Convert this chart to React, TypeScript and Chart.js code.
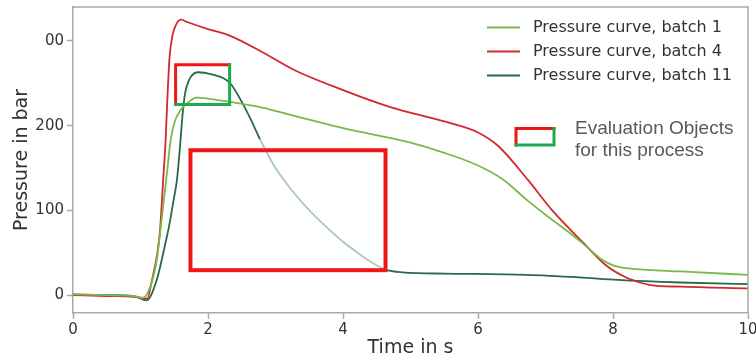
import React, { useEffect, useRef } from 'react';
import { Chart, registerables } from 'chart.js';

Chart.register(...registerables);

// ---- data ----
const seriesLabels = ['Pressure curve, batch 1', 'Pressure curve, batch 4', 'Pressure curve, batch 11'];

const batch1Time = [0, 0.5, 0.9, 1.04, 1.12, 1.2, 1.24, 1.3, 1.4, 1.44, 1.5, 1.59, 1.7, 1.83, 2.0, 2.33, 2.77, 3.5, 4.0, 5.0, 5.5, 6.0, 6.38, 6.7, 7.0, 7.3, 7.57, 7.8, 7.95, 8.1, 8.31, 9.0, 10];
const batch1Pressure = [1, 0, -1, -3, 5, 25, 41, 80, 150, 179, 203, 218, 227, 233, 232, 228, 222, 207, 197, 180, 168, 153, 136, 114, 95, 77, 60, 44, 37, 33, 31, 28, 24];

const batch4Time = [0, 0.5, 0.9, 1.1, 1.17, 1.25, 1.29, 1.335, 1.37, 1.4, 1.43, 1.47, 1.52, 1.6, 1.7, 2.0, 2.33, 2.8, 3.27, 4.0, 4.7, 5.5, 6.0, 6.3, 6.74, 7.1, 7.57, 7.9, 8.22, 8.56, 9.0, 10];
const batch4Pressure = [0, -1, -2, -4, 18, 50, 77, 135, 180, 235, 280, 305, 318, 325, 322, 314, 306, 287, 266, 242, 222, 205, 192, 176, 136, 100, 61, 35, 20, 12, 10, 8];

const batch11Time = [0, 0.5, 0.9, 1.09, 1.24, 1.39, 1.42, 1.49, 1.54, 1.58, 1.62, 1.66, 1.72, 1.8, 1.86, 2.08, 2.23, 2.33, 2.48, 2.63, 2.77, 2.9, 3.0, 3.2, 3.4, 3.6, 3.8, 4.0, 4.2, 4.4, 4.55, 4.65, 4.8, 5.1, 5.5, 6.73, 7.5, 8.07, 9.0, 10];
const batch11Pressure = [1, 0, -1, -6, 18, 69, 80, 112, 136, 170, 210, 238, 254, 262, 263, 260, 256, 250, 231, 208, 184, 164, 150, 128, 109, 92, 77, 63, 51, 40, 33, 29.5, 27.5, 26, 25.5, 24, 21, 18, 15, 13];

// segment of batch 11 drawn pale (inside the large evaluation box)
const paleRange = [2.77, 4.66];

const xTickValues = [0, 2, 4, 6, 8, 10];
const yTickValues = [0, 100, 200, 300];
const yTickLabels = ['0', '100', '200', '00'];

// evaluation boxes in data units
const bigBoxX = [1.74, 4.63];
const bigBoxY = [29.5, 171];
const smallBoxX = [1.52, 2.32];
const smallBoxY = [225, 272];

const noteLines = ['Evaluation Objects', 'for this process'];

// ---- styles ----
const colors = ['#79b84a', '#d2282e', '#276b45'];
const paleColor = '#a9c8c2';
const boxRed = '#f01616';
const boxGreen = '#1daa50';
const spineColor = '#a8a8a8';
const textColor = '#333333';
const FONT = '"DejaVu Sans", sans-serif';

function toPoints(t: number[], v: number[]) {
  return t.map((x, i) => ({ x, y: v[i] }));
}

function zeroPadding(s: any) {
  s.paddingTop = 0;
  s.paddingBottom = 0;
  s.paddingLeft = 0;
  s.paddingRight = 0;
}

const decorPlugin = {
  id: 'decor',
  afterDatasetsDraw(chart: any) {
    const { ctx, scales } = chart;
    const xs = scales.x;
    const ys = scales.y;
    ctx.save();
    // big red box
    ctx.strokeStyle = boxRed;
    ctx.lineWidth = 4;
    const bx0 = xs.getPixelForValue(bigBoxX[0]);
    const bx1 = xs.getPixelForValue(bigBoxX[1]);
    const by0 = ys.getPixelForValue(bigBoxY[1]);
    const by1 = ys.getPixelForValue(bigBoxY[0]);
    ctx.strokeRect(bx0, by0, bx1 - bx0, by1 - by0);
    // small red/green box
    const sx0 = xs.getPixelForValue(smallBoxX[0]);
    const sx1 = xs.getPixelForValue(smallBoxX[1]);
    const sy0 = ys.getPixelForValue(smallBoxY[1]);
    const sy1 = ys.getPixelForValue(smallBoxY[0]);
    ctx.lineWidth = 3;
    ctx.lineCap = 'square';
    ctx.strokeStyle = boxRed;
    ctx.beginPath();
    ctx.moveTo(sx0, sy1);
    ctx.lineTo(sx0, sy0);
    ctx.lineTo(sx1, sy0);
    ctx.stroke();
    ctx.strokeStyle = boxGreen;
    ctx.beginPath();
    ctx.moveTo(sx1, sy0);
    ctx.lineTo(sx1, sy1);
    ctx.lineTo(sx0, sy1);
    ctx.stroke();
    ctx.restore();
  },
  afterDraw(chart: any) {
    const { ctx, chartArea } = chart;
    ctx.save();
    // top and right spines
    ctx.strokeStyle = spineColor;
    ctx.lineWidth = 1.5;
    ctx.beginPath();
    ctx.moveTo(chartArea.left, chartArea.top);
    ctx.lineTo(chartArea.right, chartArea.top);
    ctx.lineTo(chartArea.right, chartArea.bottom);
    ctx.stroke();

    // legend (matplotlib style)
    const lx0 = chartArea.right - 261;
    const lx1 = lx0 + 33;
    const tx = lx0 + 46;
    const rowY = [chartArea.top + 20.5, chartArea.top + 44.5, chartArea.top + 68.5];
    ctx.font = `16px ${FONT}`;
    ctx.textBaseline = 'middle';
    ctx.textAlign = 'left';
    chart.data.datasets.forEach((ds: any, i: number) => {
      ctx.strokeStyle = ds.borderColor;
      ctx.lineWidth = 2;
      ctx.beginPath();
      ctx.moveTo(lx0, rowY[i]);
      ctx.lineTo(lx1, rowY[i]);
      ctx.stroke();
      ctx.fillStyle = textColor;
      ctx.fillText(ds.label, tx, rowY[i]);
    });

    // evaluation objects legend box
    const ix0 = chartArea.right - 232;
    const ix1 = ix0 + 38;
    const iy0 = chartArea.top + 121.5;
    const iy1 = iy0 + 16.5;
    ctx.lineWidth = 3;
    ctx.lineCap = 'square';
    ctx.strokeStyle = boxRed;
    ctx.beginPath();
    ctx.moveTo(ix0, iy1);
    ctx.lineTo(ix0, iy0);
    ctx.lineTo(ix1, iy0);
    ctx.stroke();
    ctx.strokeStyle = boxGreen;
    ctx.beginPath();
    ctx.moveTo(ix1, iy0);
    ctx.lineTo(ix1, iy1);
    ctx.lineTo(ix0, iy1);
    ctx.stroke();

    ctx.font = '19px "Liberation Sans", Arial, sans-serif';
    ctx.fillStyle = '#595959';
    ctx.textBaseline = 'alphabetic';
    noteLines.forEach((line, i) => {
      ctx.fillText(line, chartArea.right - 173, chartArea.top + 126.5 + i * 22);
    });
    ctx.restore();
  },
};

export default function App() {
  const canvasRef = useRef<HTMLCanvasElement | null>(null);

  useEffect(() => {
    if (!canvasRef.current) return;
    const dark = colors[2];
    const chart = new Chart(canvasRef.current, {
      type: 'line',
      data: {
        datasets: [
          {
            label: seriesLabels[0],
            data: toPoints(batch1Time, batch1Pressure),
            borderColor: colors[0],
            borderWidth: 1.8,
            pointRadius: 0,
            cubicInterpolationMode: 'monotone',
            fill: false,
          },
          {
            label: seriesLabels[1],
            data: toPoints(batch4Time, batch4Pressure),
            borderColor: colors[1],
            borderWidth: 1.8,
            pointRadius: 0,
            cubicInterpolationMode: 'monotone',
            fill: false,
          },
          {
            label: seriesLabels[2],
            data: toPoints(batch11Time, batch11Pressure),
            borderColor: dark,
            borderWidth: 1.8,
            pointRadius: 0,
            cubicInterpolationMode: 'monotone',
            fill: false,
            segment: {
              borderColor: (c: any) =>
                c.p0.parsed.x >= paleRange[0] && c.p1.parsed.x <= paleRange[1] ? paleColor : dark,
            },
          },
        ],
      },
      options: {
        animation: false,
        responsive: true,
        maintainAspectRatio: false,
        layout: { padding: { left: 0, top: 7, right: 8, bottom: 0 } },
        plugins: {
          legend: { display: false },
          tooltip: { enabled: false },
        },
        scales: {
          x: {
            type: 'linear',
            min: 0,
            max: 10,
            afterBuildTicks: (s: any) => {
              s.ticks = xTickValues.map((v) => ({ value: v }));
            },
            afterFit: (s: any) => {
              s.height = 43;
              zeroPadding(s);
            },
            ticks: {
              font: { family: FONT, size: 15 },
              color: textColor,
              padding: 2,
              maxRotation: 0,
            },
            grid: { drawOnChartArea: false, drawTicks: true, tickLength: 6, color: spineColor, tickWidth: 1.5 },
            border: { display: true, color: spineColor, width: 1.5 },
            title: {
              display: true,
              text: 'Time in s',
              font: { family: FONT, size: 19, lineHeight: 1 },
              color: textColor,
              padding: { top: 0, bottom: -2 },
            },
          },
          y: {
            type: 'linear',
            min: -21,
            max: 340,
            afterBuildTicks: (s: any) => {
              s.ticks = yTickValues.map((v) => ({ value: v }));
            },
            afterFit: (s: any) => {
              s.width = 73;
              zeroPadding(s);
            },
            ticks: {
              font: { family: FONT, size: 15 },
              color: textColor,
              padding: 3,
              callback: (v: any) => {
                const i = yTickValues.indexOf(Number(v));
                return i >= 0 ? yTickLabels[i] : '';
              },
            },
            grid: { drawOnChartArea: false, drawTicks: true, tickLength: 6, color: spineColor, tickWidth: 1.5 },
            border: { display: true, color: spineColor, width: 1.5 },
            title: {
              display: true,
              text: 'Pressure in bar',
              font: { family: FONT, size: 19, lineHeight: 1 },
              color: textColor,
              padding: { top: 13, bottom: 0 },
            },
          },
        },
      },
      plugins: [decorPlugin],
    } as any);
    return () => chart.destroy();
  }, []);

  return (
    <div style={{ position: 'fixed', left: 0, top: 0, width: 756, height: 356, background: '#fff' }}>
      <canvas ref={canvasRef} />
    </div>
  );
}
